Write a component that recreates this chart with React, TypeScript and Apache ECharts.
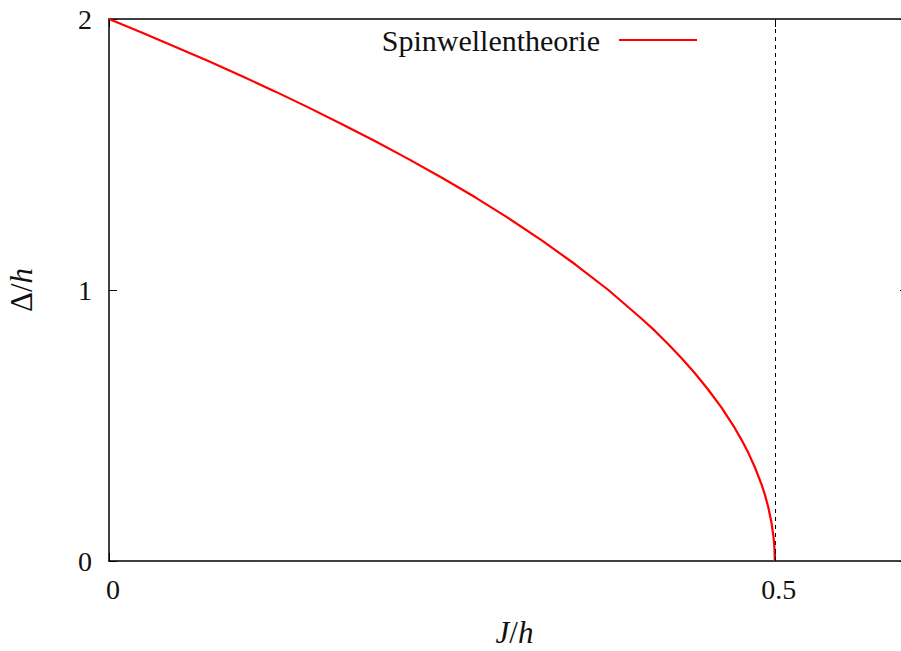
import React, { useEffect, useRef } from "react";
import * as echarts from "echarts";

// J/h values (x) and Δ/h values (y)
const jValues = [
  0, 0.025, 0.05, 0.075, 0.1, 0.125, 0.15, 0.175, 0.2, 0.225, 0.25, 0.275,
  0.3, 0.325, 0.35, 0.375, 0.4, 0.41, 0.42, 0.43, 0.44, 0.45, 0.46, 0.47,
  0.475, 0.48, 0.485, 0.49, 0.4925, 0.495, 0.4975, 0.499, 0.4997, 0.5,
];
const deltaValues = [
  2, 1.949, 1.897, 1.844, 1.789, 1.732, 1.673, 1.612, 1.549, 1.483, 1.414,
  1.342, 1.265, 1.183, 1.095, 1.0, 0.894, 0.849, 0.8, 0.748, 0.693, 0.632,
  0.566, 0.49, 0.447, 0.4, 0.346, 0.283, 0.245, 0.2, 0.141, 0.089, 0.049, 0,
];
const seriesName = "Spinwellentheorie";
const xTickLabels = ["0", "0.5"];
const yTickLabels = ["0", "1", "2"];
const criticalX = [0.5];

const FONT = "'Liberation Serif', 'Times New Roman', serif";

export default function App() {
  const ref = useRef<HTMLDivElement>(null);
  useEffect(() => {
    if (!ref.current) return;
    const chart = echarts.init(ref.current, undefined, { renderer: "svg" });
    const data = jValues.map((j, i) => [j, deltaValues[i]]);
    const axisLine = { show: true, onZero: false, lineStyle: { color: "#000", width: 1.5 } };
    const axisTick = { show: true, inside: true, length: 8, lineStyle: { color: "#000", width: 1 } };
    const titleRich = {
      i: { fontFamily: FONT, fontSize: 31, fontStyle: "italic", color: "#111" },
      r: { fontFamily: FONT, fontSize: 31, color: "#111" },
    };
    chart.setOption({
      animation: false,
      backgroundColor: "#fff",
      textStyle: { fontFamily: FONT },
      grid: {
        left: 109,
        top: 19,
        width: 799,
        height: 542,
        containLabel: false,
        outerBoundsMode: "none",
      },
      legend: {
        data: [seriesName],
        right: 204,
        top: 25,
        padding: 0,
        align: "right",
        itemWidth: 78,
        itemHeight: 2,
        icon: "rect",
        itemStyle: { color: "#ff0000" },
        textStyle: {
          fontFamily: FONT,
          fontSize: 30,
          color: "#111",
          padding: [0, 14, 0, 0],
        },
        selectedMode: false,
      },
      xAxis: [
        {
          type: "value",
          position: "bottom",
          min: 0,
          max: 0.6,
          interval: 0.5,
          splitLine: { show: false },
          axisLine,
          axisTick,
          axisLabel: {
            show: true,
            showMaxLabel: false,
            margin: 14,
            fontFamily: FONT,
            fontSize: 28,
            color: "#111",
            padding: [0, 0, 0, 8],
            formatter: (v: number) => {
              const idx = [0, 0.5].indexOf(Math.round(v * 100) / 100);
              return idx >= 0 ? xTickLabels[idx] : "";
            },
          },
          name: "{i|J}{r|/}{i|h}",
          nameLocation: "middle",
          nameGap: 56,
          nameTextStyle: { padding: [0, 0, 0, 12], rich: titleRich },
        },
        {
          type: "value",
          position: "top",
          min: 0,
          max: 0.6,
          interval: 0.5,
          splitLine: { show: false },
          axisLine,
          axisTick,
          axisLabel: { show: false },
        },
      ],
      yAxis: [
        {
          type: "value",
          position: "left",
          min: 0,
          max: 2,
          interval: 1,
          splitLine: { show: false },
          axisLine,
          axisTick,
          axisLabel: {
            margin: 17,
            fontFamily: FONT,
            fontSize: 28,
            color: "#111",
            formatter: (v: number) => yTickLabels[Math.round(v)] ?? "",
          },
          name: "{r|Δ/}{i|h}",
          nameLocation: "middle",
          nameGap: 72,
          nameRotate: 90,
          nameTextStyle: { rich: titleRich },
        },
        {
          type: "value",
          position: "right",
          min: 0,
          max: 2,
          interval: 1,
          splitLine: { show: false },
          axisLine,
          axisTick,
          axisLabel: { show: false },
        },
      ],
      series: [
        {
          name: seriesName,
          type: "line",
          data,
          xAxisIndex: 0,
          yAxisIndex: 0,
          showSymbol: false,
          symbol: "none",
          smooth: false,
          lineStyle: { color: "#ff0000", width: 2.2 },
          itemStyle: { color: "#ff0000" },
          clip: true,
          markLine: {
            silent: true,
            symbol: ["none", "none"],
            label: { show: false },
            lineStyle: { color: "#000", width: 1, type: [4, 4] },
            data: criticalX.map((x) => ({ xAxis: x })),
          },
          z: 3,
        },
      ],
    });
    return () => chart.dispose();
  }, []);
  return (
    <div
      ref={ref}
      style={{ position: "absolute", left: 0, top: 0, width: 901, height: 651, background: "#fff" }}
    />
  );
}
